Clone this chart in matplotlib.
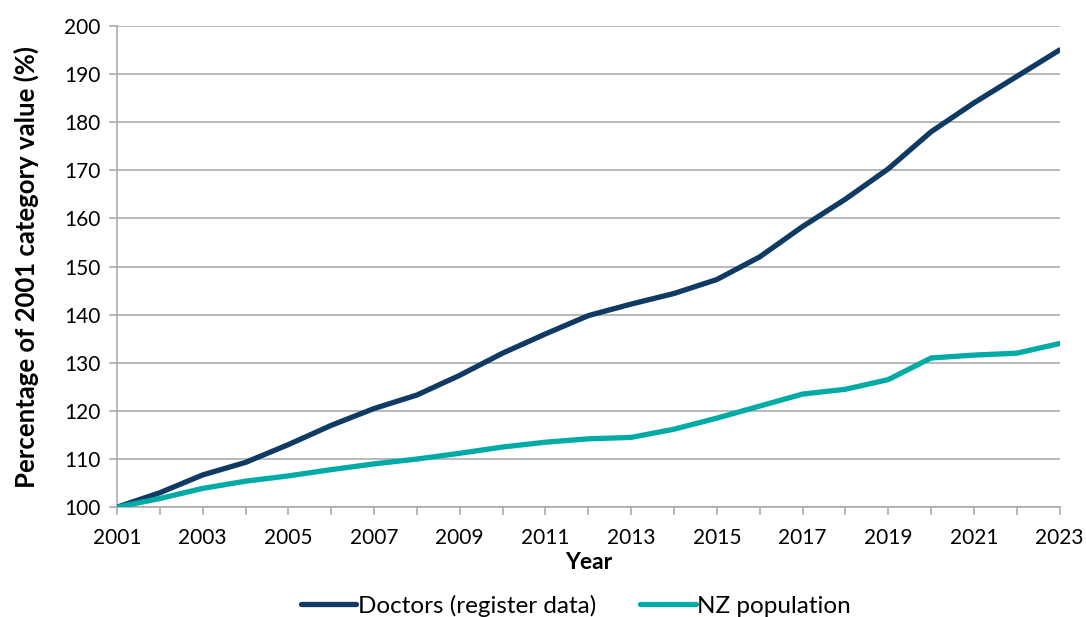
import matplotlib
matplotlib.use("Agg")
import matplotlib.pyplot as plt
from matplotlib.ticker import MultipleLocator

plt.rcParams['font.family'] = ['Lato', 'DejaVu Sans']

years = list(range(2001, 2024))
doctors = [100, 103, 106.7, 109.3, 113, 117, 120.5, 123.3, 127.4, 132, 136, 139.8,
           142.2, 144.4, 147.3, 152, 158.3, 164, 170.3, 178, 184, 189.5, 195]
nz_pop = [100, 101.8, 103.9, 105.4, 106.5, 107.8, 109, 110, 111.2, 112.5, 113.5, 114.2,
          114.5, 116.2, 118.5, 121, 123.5, 124.5, 126.5, 131, 131.6, 132, 134]

fig = plt.figure(figsize=(10.86, 6.17), dpi=100)
ax = fig.add_axes([0.1077, 0.178, 0.868, 0.78])

ax.plot(years, doctors, color="#0e3a63", lw=3.8, label="Doctors (register data)",
        solid_capstyle="round", zorder=3)
ax.plot(years, nz_pop, color="#00aba6", lw=3.8, label="NZ population",
        solid_capstyle="round", zorder=3)

ax.set_xlim(2001, 2023)
ax.set_ylim(100, 200)
ax.set_xticks(range(2001, 2024, 2))
ax.xaxis.set_minor_locator(MultipleLocator(1))
ax.yaxis.set_major_locator(MultipleLocator(10))
ax.grid(axis='y', color="#a6a6a6", lw=1.1)
ax.set_axisbelow(True)

for s in ['top', 'right']:
    ax.spines[s].set_visible(False)
for s in ['left', 'bottom']:
    ax.spines[s].set_color("#a6a6a6")
    ax.spines[s].set_linewidth(1.1)

ax.tick_params(axis='both', which='both', color="#a6a6a6", labelsize=15, width=1.1)
ax.tick_params(axis='x', which='major', length=6, pad=9)
ax.tick_params(axis='x', which='minor', length=6)
ax.tick_params(axis='y', length=6, pad=6)

ax.set_xlabel("Year", fontsize=16.5, fontweight='bold', labelpad=3)
ax.set_ylabel("Percentage of 2001 category value (%)", fontsize=18.5, fontweight='bold', labelpad=18)

fig.legend(loc='lower center', bbox_to_anchor=(0.53, -0.035), ncol=2, frameon=False,
           fontsize=17.5, handlelength=2.3, columnspacing=1.8, handletextpad=0.05)

fig.savefig("out.png", dpi=100)
